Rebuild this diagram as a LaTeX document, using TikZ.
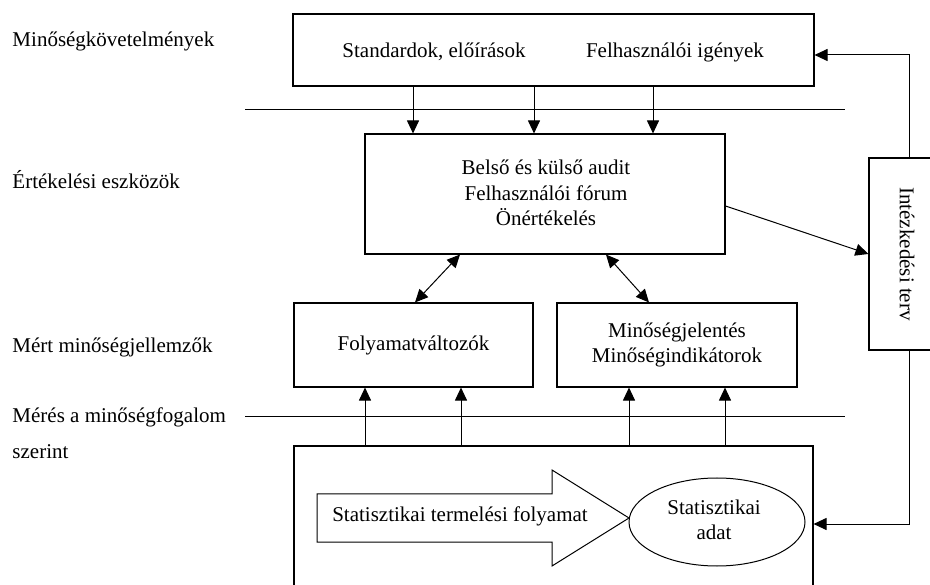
\documentclass[tikz,border=0pt]{standalone}
\usepackage{fontspec}
\setmainfont{Liberation Serif}
\usetikzlibrary{arrows.meta,shapes.geometric}
\begin{document}
\begin{tikzpicture}[x=1pt,y=-1pt, line width=1pt,
  box/.style={draw, rectangle, inner sep=0pt, line width=1.1pt},
  arr/.style={-{Triangle[length=13pt,width=12pt]}},
  darr/.style={{Triangle[length=13pt,width=12pt]}-{Triangle[length=13pt,width=12pt]}},
  lbl/.style={font=\fontsize{21}{25.5}\selectfont, inner sep=0pt, align=center},
  side/.style={lbl, anchor=west, align=left}]
\useasboundingbox (0,0) rectangle (930,585);
\clip (0,0) rectangle (930,585);
% side labels
\node[side] (l1) at (12,41) {Minőségkövetelmények};
\node[side] (l2) at (12,180) {Értékelési eszközök};
\node[side] (l3) at (12,347) {Mért minőségjellemzők};
\node[side] (l4) at (12,417) {Mérés a minőségfogalom};
\node[side] (l5) at (12,452) {szerint};
% separator lines
\coordinate (s1a) at (245,110); \coordinate (s1b) at (845,110);
\coordinate (s2a) at (245,417); \coordinate (s2b) at (845,417);
\draw (s1a) -- (s1b);
\draw (s2a) -- (s2b);
% boxes
\node[box, minimum width=521pt, minimum height=72pt] (top) at (553.5,50) {};
\node[lbl] (std) at (434,52) {Standardok, előírások};
\node[lbl] (fel) at (675,52) {Felhasználói igények};
\node[box, minimum width=360pt, minimum height=120pt] (mid) at (545,194) {};
\node[lbl] (midt) at (546,193) {Belső és külső audit\\Felhasználói fórum\\Önértékelés};
\node[box, minimum width=239pt, minimum height=84pt] (fol) at (413.5,345) {};
\node[lbl] at (fol) {Folyamatváltozók};
\node[box, minimum width=240pt, minimum height=84pt] (min) at (677,345) {};
\node[lbl] at (min) {Minőségjelentés\\Minőségindikátorok};
\node[box, minimum width=519pt, minimum height=154pt] (bot) at (553.5,523) {};
\node[box, minimum width=80pt, minimum height=192pt] (intz) at (909,254) {};
\node[lbl, rotate=-90] at (907,254) {Intézkedési terv};
% big arrow and ellipse
\coordinate (pa) at (317,494); \coordinate (pb) at (552,494); \coordinate (pc) at (552,470);
\coordinate (pd) at (629,518); \coordinate (pe) at (552,566); \coordinate (pf) at (552,542);
\coordinate (pg) at (317,542);
\draw (pa) -- (pb) -- (pc) -- (pd) -- (pe) -- (pf) -- (pg) -- cycle;
\node[lbl] (proc) at (460,516) {Statisztikai termelési folyamat};
\node[draw, ellipse, minimum width=176pt, minimum height=88pt, inner sep=0pt] (ell) at (717,522) {};
\node[lbl] at (714,520) {Statisztikai\\adat};
% columns
\coordinate (c1) at (413,0); \coordinate (c2) at (534,0); \coordinate (c3) at (653,0);
\coordinate (d1) at (365,0); \coordinate (d2) at (461,0); \coordinate (d3) at (629,0); \coordinate (d4) at (725,0);
\draw[arr] (top.south -| c1) -- (mid.north -| c1);
\draw[arr] (top.south -| c2) -- (mid.north -| c2);
\draw[arr] (top.south -| c3) -- (mid.north -| c3);
\draw[arr] (bot.north -| d1) -- (fol.south -| d1);
\draw[arr] (bot.north -| d2) -- (fol.south -| d2);
\draw[arr] (bot.north -| d3) -- (min.south -| d3);
\draw[arr] (bot.north -| d4) -- (min.south -| d4);
% bidirectional
\coordinate (e1) at (460,0); \coordinate (e2) at (415,0); \coordinate (e3) at (606,0); \coordinate (e4) at (649,0);
\draw[darr] (mid.south -| e1) -- (fol.north -| e2);
\draw[darr] (mid.south -| e3) -- (min.north -| e4);
% to action plan and feedback
\draw[arr] ([yshift=-12pt]mid.east) -- (intz.west);
\draw[arr] (intz.north) |- ([yshift=-5pt]top.east);
\draw[arr] (intz.south) |- ([yshift=-1pt]bot.east);
\end{tikzpicture}
\end{document}
